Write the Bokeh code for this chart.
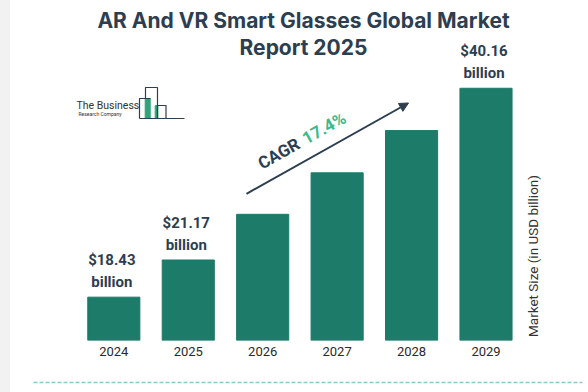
import math
from bokeh.plotting import figure
from bokeh.models import (Range1d, LinearScale, FixedTicker, LinearAxis, ColumnDataSource,
                          Arrow, NormalHead, Spacer)
from bokeh.layouts import row
from bokeh.core.properties import value
from bokeh.embed import file_html
from bokeh.resources import INLINE

# ---------------- data ----------------
years = ["2024", "2025", "2026", "2027", "2028", "2029"]
values = [18.43, 21.17, 25.1, 29.3, 34.3, 40.16]
labeled = [True, True, False, False, False, True]
title_lines = ["AR And VR Smart Glasses Global Market", "Report 2025"]
cagr_word = "CAGR"
cagr_value = "17.4%"
y_label = "Market Size (in USD billion)"
logo_lines = ["The Business", "Research Company"]

# ---------------- style ----------------
BAR = "#1d7b69"
DARK = "#2c3e50"
GREEN = "#3dba8b"
FONT = "Roboto"

y_start = 15.68
y_end = y_start * math.exp(340 / 268.2)

p = figure(width=578, height=392, output_backend="svg", toolbar_location=None,
           x_range=Range1d(-1.388, 6.377), y_range=Range1d(y_start, y_end),
           y_axis_type="log", y_axis_location=None,
           min_border_left=0, min_border_right=0, min_border_top=0, min_border_bottom=52)
p.extra_x_ranges = {"px": Range1d(10, 588)}
p.extra_y_ranges = {"px": Range1d(340, 0)}
p.extra_x_scales = {"px": LinearScale()}
p.extra_y_scales = {"px": LinearScale()}
p.outline_line_color = None
p.background_fill_color = "white"
p.border_fill_color = "white"
p.xgrid.visible = False
p.ygrid.visible = False

idx = list(range(len(years)))
src = ColumnDataSource(dict(x=idx, top=values, year=years))
p.vbar(x="x", top="top", bottom=y_start, width=0.7, source=src, color=BAR)

# value labels
lx = [i for i in idx if labeled[i]]
lv = [values[i] for i in idx if labeled[i]]
lsrc = ColumnDataSource(dict(x=lx, y=lv, t1=[f"${v:.2f}" for v in lv], t2=["billion"] * len(lv)))
for col, off in (("t1", -37), ("t2", -15)):
    p.text(x="x", y="y", text=col, source=lsrc, x_offset=-2, y_offset=off,
           text_font=value(FONT), text_font_style="bold", text_font_size="15px",
           text_color=DARK, text_align="center", text_baseline="middle")

# x axis with years
xa = p.xaxis[0]
xa.ticker = FixedTicker(ticks=idx)
xa.major_label_overrides = {i: y for i, y in zip(idx, years)}
xa.major_label_text_font = FONT
xa.major_label_text_font_size = "13px"
xa.major_label_text_color = "#2a2a2a"
xa.axis_line_color = None
xa.major_tick_line_color = None
xa.minor_tick_line_color = None
xa.major_tick_out = 0
xa.minor_tick_out = 0
xa.major_label_standoff = 6
xa.axis_label = " "
xa.axis_label_text_font_size = "12px"
xa.axis_label_standoff = 7

# dashed separator line (second bottom axis)
ax2 = LinearAxis(ticker=FixedTicker(ticks=[]), axis_line_color="#8cc8ca", axis_line_dash="4 2",
                 axis_line_width=1.5, bounds=(-1.079, 6.298), major_tick_out=0, minor_tick_out=0,
                 major_tick_line_color=None, minor_tick_line_color=None,
                 major_label_text_font_size="1px")
p.add_layout(ax2, "below")

PX = dict(x_range_name="px", y_range_name="px")

# title
p.text(x=[303, 303], y=[19.5, 46.5], text=title_lines, text_font=value("Inter"), text_font_style="bold",
       text_font_size="21px", text_color=DARK, text_align="center", text_baseline="middle", **PX)

# logo
p.text(x=[76], y=[105], text=[logo_lines[0]], text_font=value(FONT), text_font_size="10.5px",
       text_color="#333333", text_align="left", text_baseline="middle", **PX)
p.text(x=[78], y=[113.5], text=[logo_lines[1]], text_font=value(FONT), text_font_size="5px",
       text_color="#333333", text_align="left", text_baseline="middle", **PX)
p.quad(left=[144.7, 154.7], right=[149.7, 157.3], top=[98, 105], bottom=[118, 118],
       color="#2fa37a", **PX)
p.multi_line(xs=[[139, 139, 150], [145, 145, 157, 157], [157, 165.5, 165.5], [139, 184]],
             ys=[[118, 98, 98], [98, 87, 87, 118], [105, 105, 118], [118, 118]],
             line_color=DARK, line_width=1.2, **PX)

# CAGR arrow
p.add_layout(Arrow(end=NormalHead(size=9, fill_color=DARK, line_color=DARK),
                   x_start=246, y_start=193.3, x_end=408, y_end=102.5,
                   line_color=DARK, line_width=2, **PX))
theta = math.atan2(193.3 - 102.5, 408 - 246)
ux, uy = math.cos(theta), -math.sin(theta)
mx, my = 300.5, 140.5
p.text(x=[mx - 3 * ux], y=[my - 3 * uy], text=[cagr_word], angle=theta, text_font=value(FONT),
       text_font_style="bold", text_font_size="17px", text_color=DARK,
       text_align="right", text_baseline="middle", **PX)
p.text(x=[mx + 3 * ux], y=[my + 3 * uy], text=[cagr_value], angle=theta, text_font=value(FONT),
       text_font_style="bold", text_font_size="17px", text_color=GREEN,
       text_align="left", text_baseline="middle", **PX)

# y label (right side)
p.text(x=[532], y=[255.5], text=[y_label], angle=math.pi / 2, text_font=value(FONT),
       text_font_size="13.5px", text_color="#333333", text_align="center", text_baseline="middle", **PX)

sp = Spacer(width=10, height=392, styles={"background-color": "#f2f2f2"})
layout = row(sp, p)

open("out.html", "w").write(file_html(layout, INLINE))
